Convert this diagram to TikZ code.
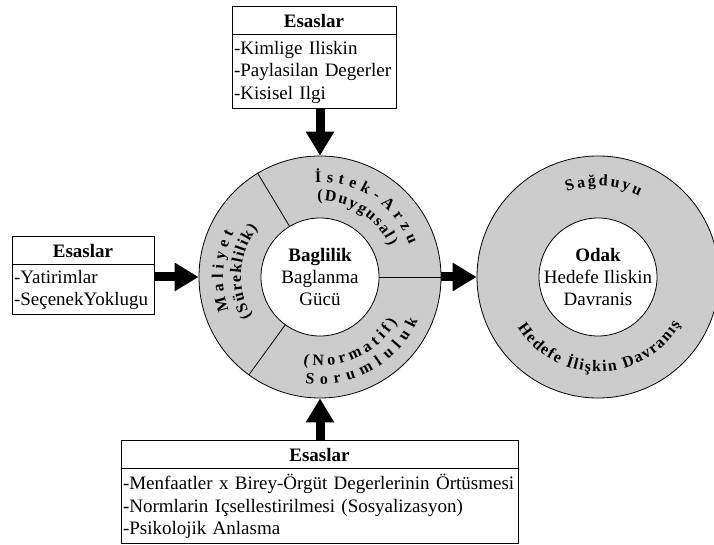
\documentclass[tikz,border=0pt]{standalone}
\usepackage{fontspec}
\setmainfont{Liberation Serif}
\usetikzlibrary{arrows.meta,positioning,decorations.text}

\newcommand{\halkayazi}{\fontsize{16}{16}\selectfont\bfseries}

\begin{document}
\begin{tikzpicture}[x=1pt,y=1pt,
    baslik/.style={draw, line width=1pt, minimum height=28pt, inner sep=0pt, outer sep=0pt, font=\fontsize{19}{22}\selectfont\bfseries},
    liste/.style={draw, line width=1pt, align=left, inner xsep=2pt, inner ysep=0pt, outer sep=0pt, font=\fontsize{19}{22.5}\selectfont},
    disdaire/.style={circle, draw, line width=0.8pt, fill=gray!40, minimum size=242pt, inner sep=0pt},
    icdaire/.style={circle, draw, line width=0.8pt, fill=white, minimum size=118pt, inner sep=0pt},
    ortayazi/.style={align=center, font=\fontsize{19}{22}\selectfont},
    kalinok/.style={line width=9pt, -{Triangle[length=24pt,width=27pt]}},
    halka/.style={decorate, decoration={text along path, text align=fit to path, text={|\halkayazi|#1}}}
]
    \useasboundingbox (0,0) rectangle (714,545);

    % Top box
    \node[baslik, minimum width=164pt] (ustbaslik) at (314,524) {Esaslar};
    \node[liste, text width=160pt, minimum height=74pt, below=0pt of ustbaslik] (ustliste) {-Kimlige Iliskin\\-Paylasilan Degerler\\-Kisisel Ilgi};

    % Left box
    \node[baslik, minimum width=142pt] (solbaslik) at (83,294) {Esaslar};
    \node[liste, text width=138pt, minimum height=50pt, below=0pt of solbaslik] (solliste) {-Yatirimlar\\-SeçenekYoklugu};

    % Bottom box
    \node[baslik, minimum width=397pt] (altbaslik) at (319.5,90) {Esaslar};
    \node[liste, text width=393pt, minimum height=75pt, below=0pt of altbaslik] (altliste) {-Menfaatler x Birey-Örgüt Degerlerinin Örtüsmesi\\-Normlarin Içsellestirilmesi (Sosyalizasyon)\\-Psikolojik Anlasma};

    % Commitment ring
    \node[disdaire] (baglilik) at (320,268) {};
    \node[icdaire] (baglilikic) at (baglilik) {};
    \draw[line width=0.8pt] (baglilikic.121) -- (baglilik.121);
    \draw[line width=0.8pt] (baglilikic.0) -- (baglilik.0);
    \draw[line width=0.8pt] (baglilikic.234) -- (baglilik.234);
    \node[ortayazi] (bagyazi) at (baglilikic) {\textbf{Baglilik}\\Baglanma\\Gücü};

    \path[halka={İstek-Arzu}] (baglilik.center) ++(93:95) arc[start angle=93, end angle=20, radius=95];
    \path[halka={(Duygusal)}] (baglilik.center) ++(92:76) arc[start angle=92, end angle=24, radius=76];
    \path[halka={Maliyet}] (baglilik.center) ++(200:97) arc[start angle=200, end angle=153, radius=97];
    \path[halka={(Süreklilik)}] (baglilik.center) ++(210:79) arc[start angle=210, end angle=142, radius=79];
    \path[halka={Sorumluluk}] (baglilik.center) ++(262:107) arc[start angle=262, end angle=336, radius=107];
    \path[halka={(Normatif)}] (baglilik.center) ++(259:89) arc[start angle=259, end angle=330, radius=89];

    % Focus ring
    \node[disdaire] (odak) at (598,268) {};
    \node[icdaire] (odakic) at (odak) {};
    \node[ortayazi] (odakyazi) at (odakic) {\textbf{Odak}\\Hedefe Iliskin\\Davranis};

    \path[halka={Sağduyu}] (odak.center) ++(110:91) arc[start angle=110, end angle=63, radius=91];
    \path[halka={Hedefe İlişkin Davranış}] (odak.center) ++(212:95) arc[start angle=212, end angle=330, radius=95];

    % Arrows
    \draw[kalinok] (baglilik.north |- ustliste.south) -- (baglilik.north);
    \draw[kalinok] (solliste.east |- baglilik.west) -- (baglilik.west);
    \draw[kalinok] (baglilik.east) -- (odak.west);
    \draw[kalinok] (baglilik.south |- altbaslik.north) -- (baglilik.south);
\end{tikzpicture}
\end{document}
